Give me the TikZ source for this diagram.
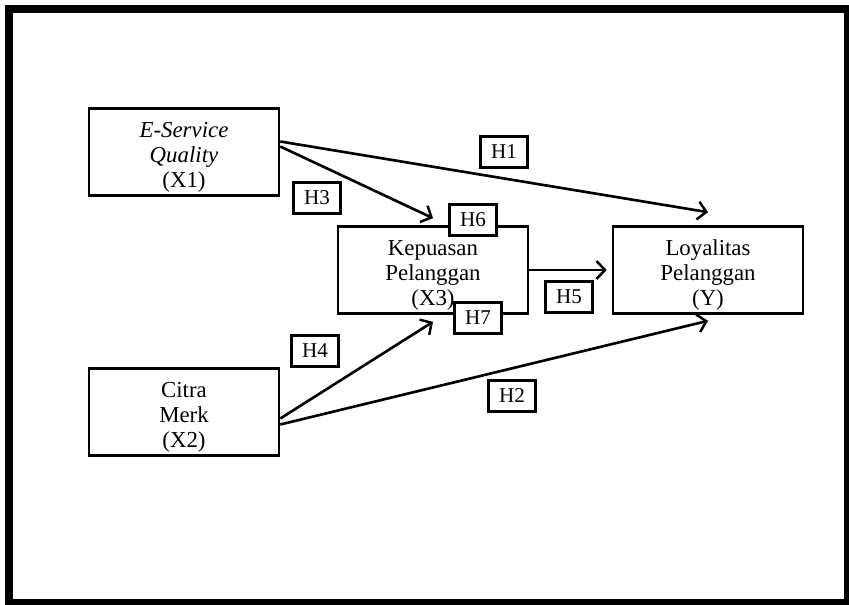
\documentclass[tikz,border=0pt]{standalone}
\usepackage{fontspec}
\setmainfont{Liberation Serif}
\usepackage{tikz}
\usetikzlibrary{
  arrows.meta,
  positioning,
  calc
}
\newcommand{\topstrut}{\rule{0pt}{14.6pt}}

\begin{document}
\begin{tikzpicture}[
  x=0.02cm, y=-0.02cm,
  varbox/.style={draw,line width=1.5pt,fill=white,minimum width=3.8cm,
                 minimum height=1.74cm,inner ysep=1pt,align=center,
                 font=\fontsize{13}{14.4}\selectfont},
  hyp/.style={draw,line width=1.5pt,fill=white,minimum width=0.94cm,
              minimum height=0.62cm,inner sep=0pt,font=\fontsize{12}{14}\selectfont},
  arr/.style={-{Straight Barb[length=1.7mm,width=3.6mm,line width=1.4pt]},line width=1.5pt},
]
\useasboundingbox (0,0) rectangle (849,605);
\draw[line width=0.18cm] (9,9) rectangle (848,603);

\node[varbox] (x1) at (184,152) {\topstrut\textit{E-Service}\\\textit{Quality}\\(X1)};
\node[varbox] (x2) at (184,412) {\topstrut Citra\\Merk\\(X2)};
\node[varbox] (x3) at (433,270) {\topstrut Kepuasan\\Pelanggan\\(X3)};
\node[varbox] (y)  at (708,270) {\topstrut Loyalitas\\Pelanggan\\(Y)};

\draw[arr] ([yshift=0.21cm]x1.east)  -- ([yshift=0.26cm]y.north);
\draw[arr] ([yshift=0.11cm]x1.east)  -- ([yshift=0.14cm]x3.north);
\draw[arr] ([yshift=-0.13cm]x2.east) -- ([yshift=-0.14cm]x3.south);
\draw[arr] ([yshift=-0.25cm]x2.east) -- ([yshift=-0.12cm]y.south);
\draw[arr] (x3.east) -- ([xshift=-0.1cm]y.west);

\node[hyp] (h1) at (504,152) {H1};
\node[hyp] (h2) at (512,396) {H2};
\node[hyp] (h3) at (317,198) {H3};
\node[hyp] (h4) at (315,351) {H4};
\node[hyp] (h5) at (569,297) {H5};
\node[hyp] (h6) at (473,220) {H6};
\node[hyp] (h7) at (478,318) {H7};
\end{tikzpicture}
\end{document}
